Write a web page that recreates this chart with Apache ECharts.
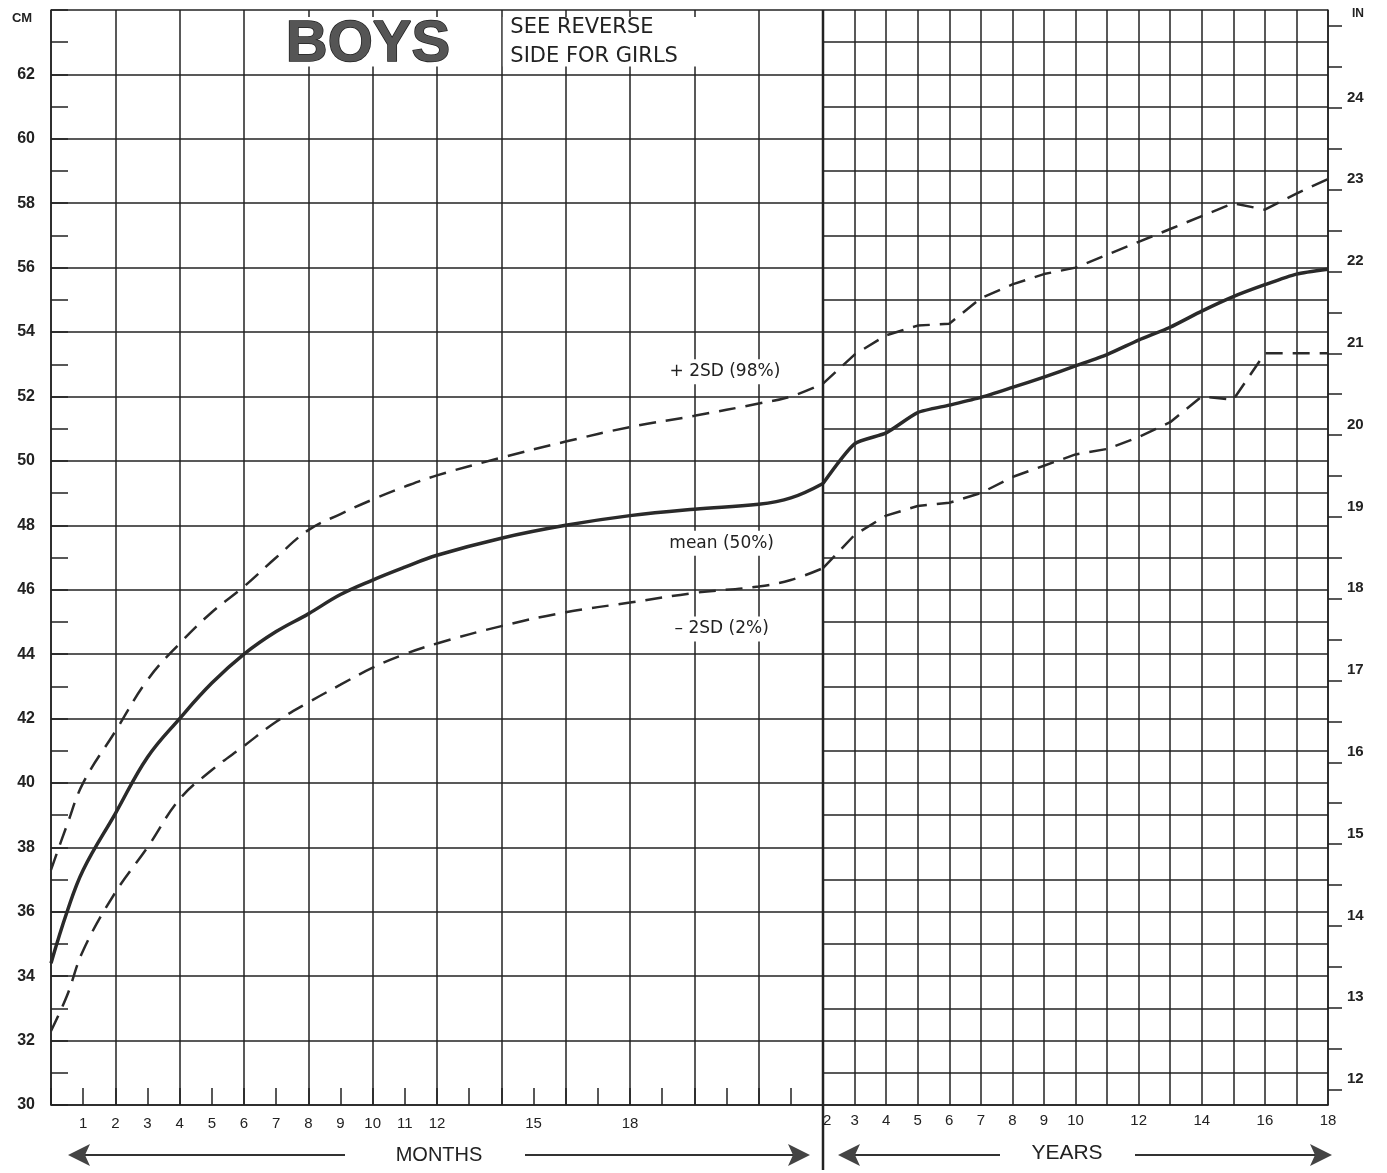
<!DOCTYPE html>
<html>
<head>
<meta charset="utf-8">
<title>Head circumference - Boys</title>
<script src="https://cdn.jsdelivr.net/npm/echarts@6/dist/echarts.min.js"></script>
<style>
  html, body { margin: 0; padding: 0; background: #fff; }
  #chart { width: 1387px; height: 1173px; }
</style>
</head>
<body>
<div id="chart"></div>
<script>
// ages in months (0-24) for the left part of the chart
const monthAges = [0, 0.5, 1, 2, 3, 4, 5, 6, 7, 8, 9, 10, 11, 12, 14, 16, 18, 20, 22, 23, 24];
const meanMonths  = [34.4, 36.0, 37.3, 39.05, 40.8, 42.0, 43.1, 44.0, 44.7, 45.25, 45.85, 46.3, 46.7, 47.07, 47.6, 48.0, 48.3, 48.5, 48.65, 48.85, 49.3];
const upperMonths = [37.3, 38.7, 40.0, 41.6, 43.2, 44.33, 45.3, 46.1, 47.0, 47.85, 48.35, 48.8, 49.2, 49.55, 50.1, 50.6, 51.05, 51.4, 51.78, 52.0, 52.4];
const lowerMonths = [32.3, 33.4, 34.8, 36.6, 38.0, 39.5, 40.4, 41.15, 41.9, 42.5, 43.05, 43.58, 44.0, 44.33, 44.87, 45.3, 45.6, 45.9, 46.1, 46.3, 46.67];

// ages in years (2-18) for the right part
const yearAges = [2, 3, 4, 5, 6, 7, 8, 9, 10, 11, 12, 13, 14, 15, 16, 17, 18];
const meanYears  = [49.3, 50.53, 50.87, 51.5, 51.73, 51.97, 52.28, 52.6, 52.95, 53.3, 53.75, 54.15, 54.65, 55.1, 55.47, 55.8, 55.95];
const upperYears = [52.4, 53.3, 53.9, 54.2, 54.26, 55.05, 55.48, 55.8, 56.0, 56.4, 56.8, 57.2, 57.6, 58.0, 57.8, 58.3, 58.75];
const lowerYears = [46.67, 47.7, 48.3, 48.6, 48.7, 49.0, 49.5, 49.85, 50.2, 50.37, 50.74, 51.2, 52.0, 51.9, 53.34, 53.34, 53.34];

// tick labels
const monthLabels = [1, 2, 3, 4, 5, 6, 7, 8, 9, 10, 11, 12, 15, 18];
const yearLabels = [2, 3, 4, 5, 6, 7, 8, 9, 10, 12, 14, 16, 18];
const cmLabels = [30, 32, 34, 36, 38, 40, 42, 44, 46, 48, 50, 52, 54, 56, 58, 60, 62];
const inchLabels = [12, 13, 14, 15, 16, 17, 18, 19, 20, 21, 22, 23, 24];
const inchTicks = [12, 12.5, 13, 13.5, 14, 14.5, 15, 15.5, 16, 16.5, 17, 17.5, 18, 18.5, 19, 19.5, 20, 20.5, 21, 21.5, 22, 22.5, 23, 23.5, 24, 24.5, 25];

const ink = '#222';
const gridLine = { show: true, lineStyle: { color: ink, width: 1.5 } };
const pair = (xs, ys) => xs.map((x, i) => [x, ys[i]]);

const chart = echarts.init(document.getElementById('chart'));

const meanStyle = { color: '#2a2a2a', width: 3.5 };
const dashStyle = { color: '#2a2a2a', width: 2.5, type: [17, 10] };

const option = {
  backgroundColor: '#fff',
  animation: false,
  grid: [
    { left: 51, top: 10, width: 772, height: 1095 },
    { left: 823, top: 10, width: 505, height: 1095 }
  ],
  xAxis: [
    {
      type: 'value', gridIndex: 0, min: 0, max: 24, interval: 2,
      axisLine: { show: true, lineStyle: { color: ink, width: 1.5 } },
      axisTick: { show: true, inside: true, length: 17, lineStyle: { color: ink, width: 1.5 } },
      minorTick: { show: true, splitNumber: 2, length: 17, lineStyle: { color: ink, width: 1.5 } },
      axisLabel: {
        customValues: monthLabels, color: ink, fontSize: 15, margin: 11,
        fontFamily: 'Liberation Sans'
      },
      splitLine: gridLine
    },
    {
      type: 'value', gridIndex: 1, min: 2, max: 18, interval: 1,
      axisLine: { show: true, lineStyle: { color: ink, width: 1.5 } },
      axisTick: { show: false },
      axisLabel: {
        customValues: yearLabels, color: ink, fontSize: 15, margin: 8,
        fontFamily: 'Liberation Sans',
        formatter: v => (v === 2 ? '  2' : String(v))
      },
      splitLine: gridLine
    }
  ],
  yAxis: [
    {
      type: 'value', gridIndex: 0, min: 30, max: 64, interval: 2,
      axisLine: { show: true, lineStyle: { color: ink, width: 1.5 } },
      axisTick: { show: true, inside: true, length: 17, lineStyle: { color: ink, width: 1.5 } },
      minorTick: { show: true, splitNumber: 2, length: 17, lineStyle: { color: ink, width: 1.5 } },
      axisLabel: {
        customValues: cmLabels, color: ink, fontSize: 16, fontWeight: 'bold', margin: 16,
        fontFamily: 'Liberation Sans'
      },
      splitLine: gridLine
    },
    {
      type: 'value', gridIndex: 1, min: 30, max: 64, interval: 1,
      axisLine: { show: false }, axisTick: { show: false }, axisLabel: { show: false },
      splitLine: gridLine
    },
    {
      type: 'value', gridIndex: 1, position: 'right', min: 30 / 2.54, max: 64 / 2.54,
      axisLine: { show: true, lineStyle: { color: ink, width: 1.5 } },
      axisTick: { show: true, customValues: inchTicks, length: 14, lineStyle: { color: ink, width: 1.5 } },
      axisLabel: {
        customValues: inchLabels, color: ink, fontSize: 15, fontWeight: 'bold', margin: 19,
        verticalAlign: 'bottom', padding: [0, 0, 3, 0], fontFamily: 'Liberation Sans'
      },
      splitLine: { show: false }
    }
  ],
  series: [
    { name: 'mean', type: 'line', xAxisIndex: 0, yAxisIndex: 0, data: pair(monthAges, meanMonths),
      showSymbol: false, smooth: 0.4, lineStyle: meanStyle },
    { name: '+2SD', type: 'line', xAxisIndex: 0, yAxisIndex: 0, data: pair(monthAges, upperMonths),
      showSymbol: false, smooth: 0.4, lineStyle: dashStyle },
    { name: '-2SD', type: 'line', xAxisIndex: 0, yAxisIndex: 0, data: pair(monthAges, lowerMonths),
      showSymbol: false, smooth: 0.4, lineStyle: dashStyle },
    { name: 'mean', type: 'line', xAxisIndex: 1, yAxisIndex: 1, data: pair(yearAges, meanYears),
      showSymbol: false, smooth: 0.2, lineStyle: meanStyle },
    { name: '+2SD', type: 'line', xAxisIndex: 1, yAxisIndex: 1, data: pair(yearAges, upperYears),
      showSymbol: false, lineStyle: dashStyle },
    { name: '-2SD', type: 'line', xAxisIndex: 1, yAxisIndex: 1, data: pair(yearAges, lowerYears),
      showSymbol: false, lineStyle: dashStyle }
  ]
};

chart.setOption(option);

// decorations placed from the axes
const px = m => chart.convertToPixel({ xAxisIndex: 0 }, m);
const py = v => chart.convertToPixel({ yAxisIndex: 0 }, v);
const plotTop = py(64);
const bandBottom = py(62);
const arrowY = 1155;

function arrow(x1, x2, y) {
  const dir = x2 > x1 ? 1 : -1;
  return [
    { type: 'line', shape: { x1: x1, y1: y, x2: x2 - dir * 6, y2: y }, style: { stroke: '#333', lineWidth: 2 } },
    { type: 'polygon', shape: { points: [[x2, y], [x2 - dir * 22, y - 11], [x2 - dir * 17, y], [x2 - dir * 22, y + 11]] },
      style: { fill: '#444' } }
  ];
}

function curveLabel(text, m, v) {
  return {
    type: 'text', x: px(m), y: py(v), z: 10,
    style: {
      text: text, fill: ink, font: '17px "DejaVu Sans"', align: 'center', verticalAlign: 'middle',
      backgroundColor: '#fff', padding: [4, 8]
    }
  };
}

const graphics = [
  // blank title band
  { type: 'rect', z: 5, shape: { x: px(6) + 1.5, y: plotTop + 7, width: px(14) - px(6) - 3, height: bandBottom - plotTop - 15 }, style: { fill: '#fff' } },
  { type: 'rect', z: 5, shape: { x: px(14) + 1.5, y: plotTop + 7, width: px(22) - px(14) - 3, height: bandBottom - plotTop - 15 }, style: { fill: '#fff' } },
  { type: 'text', z: 10, x: 368, y: (plotTop + bandBottom) / 2 + 3,
    style: { text: 'BOYS', font: 'bold 58px "Liberation Sans"', fill: '#555', stroke: '#222', lineWidth: 1.5,
      align: 'center', verticalAlign: 'middle' } },
  { type: 'text', z: 10, x: px(14) + 9, y: plotTop + 18,
    style: { text: 'SEE REVERSE', font: '21px "DejaVu Sans"', fill: ink, verticalAlign: 'middle' } },
  { type: 'text', z: 10, x: px(14) + 9, y: plotTop + 47,
    style: { text: 'SIDE FOR GIRLS', font: '21px "DejaVu Sans"', fill: ink, verticalAlign: 'middle' } },

  // unit names
  { type: 'text', x: 22, y: 18, style: { text: 'CM', font: 'bold 13px "Liberation Sans"', fill: ink, align: 'center', verticalAlign: 'middle' } },
  { type: 'text', x: 1358, y: 14, style: { text: 'IN', font: 'bold 12px "Liberation Sans"', fill: ink, align: 'center', verticalAlign: 'middle' } },

  // divider between months and years
  { type: 'line', z: 6, shape: { x1: px(24), y1: plotTop, x2: px(24), y2: 1170 }, style: { stroke: ink, lineWidth: 2.5 } },

  // curve names
  curveLabel('+ 2SD (98%)', 20.95, 52.77),
  curveLabel('mean (50%)', 20.85, 47.44),
  curveLabel('\u2013 2SD (2%)', 20.85, 44.78),

  // bottom captions
  { type: 'text', x: 439, y: arrowY, style: { text: 'MONTHS', font: '20px "Liberation Sans"', fill: ink, align: 'center', verticalAlign: 'middle' } },
  { type: 'text', x: 1067, y: arrowY - 2, style: { text: 'YEARS', font: '21px "Liberation Sans"', fill: ink, align: 'center', verticalAlign: 'middle' } }
]
  .concat(arrow(345, 68, arrowY))
  .concat(arrow(525, 810, arrowY))
  .concat(arrow(1000, 838, arrowY))
  .concat(arrow(1135, 1332, arrowY));

chart.setOption({ graphic: graphics });
</script>
</body>
</html>
